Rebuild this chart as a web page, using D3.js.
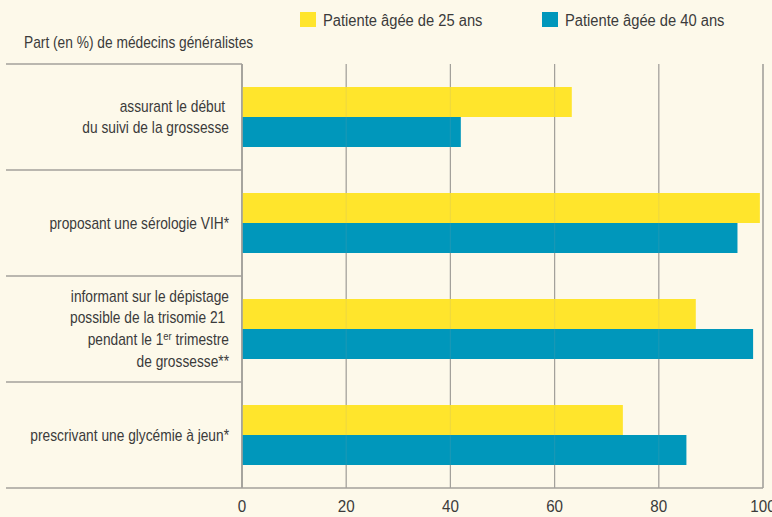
<!DOCTYPE html>
<html lang="fr">
<head>
<meta charset="UTF-8">
<title>Médecins généralistes</title>
<script src="https://cdn.jsdelivr.net/npm/d3@7"></script>
<style>
  body { margin: 0; background: #fdf9ea; }
  svg { display: block; }
  text { font-family: "Liberation Sans", Arial, sans-serif; fill: #3b3b3b; }
</style>
</head>
<body>
<svg id="chart" width="772" height="517"></svg>
<script>
// categories (each label is a list of lines; "^" marks the superscript part)
const categories = ["debut", "vih", "trisomie", "glycemie"];
const labelLines = [
  ["assurant le début ", "du suivi de la grossesse"],
  ["proposant une sérologie VIH*"],
  ["informant sur le dépistage", "possible de la trisomie 21 ", "pendant le 1^er^ trimestre", "de grossesse**"],
  ["prescrivant une glycémie à jeun*"]
];
const seriesNames = ["Patiente âgée de 25 ans", "Patiente âgée de 40 ans"];
const age25 = [63.3, 99.4, 87.1, 73.1];
const age40 = [42, 95.1, 98.1, 85.3];
const xTicks = [0, 20, 40, 60, 80, 100];
const colors = ["#ffe52c", "#0097bb"];

const svg = d3.select("#chart");

const x = d3.scaleLinear().domain([0, 100]).range([242, 763]);
const y = d3.scaleBand().domain(categories).range([64, 488]);
const ySub = d3.scaleBand().domain([0, 1]).range([23, 83]);

const gridColor = "#a3a19b";
const narrow = 0.86; // no condensed font installed, squeeze horizontally

// vertical gridlines
const grid = svg.append("g").selectAll("line")
  .data(xTicks)
  .enter().append("line")
  .attr("x1", d => x(d)).attr("x2", d => x(d))
  .attr("y1", 64).attr("y2", 488)
  .attr("stroke", gridColor)
  .attr("stroke-width", d => d === 0 || d === 100 ? 1.6 : 1.2);

// bars
const rows = categories.map((c, i) => ({cat: c, values: [age25[i], age40[i]]}));
const groups = svg.append("g").selectAll("g")
  .data(rows)
  .enter().append("g")
  .attr("transform", d => "translate(0," + y(d.cat) + ")");

groups.selectAll("rect")
  .data(d => d.values)
  .enter().append("rect")
  .attr("x", x(0))
  .attr("y", (d, i) => ySub(i))
  .attr("width", d => x(d) - x(0))
  .attr("height", ySub.bandwidth())
  .attr("fill", (d, i) => colors[i]);

// faint gridlines showing through the bars
svg.append("g").selectAll("line")
  .data(xTicks.slice(1, -1))
  .enter().append("line")
  .attr("x1", d => x(d)).attr("x2", d => x(d))
  .attr("y1", 64).attr("y2", 488)
  .attr("stroke", gridColor)
  .attr("stroke-width", 1.2)
  .attr("opacity", 0.15);

// axis line at 0 on top of bars
svg.append("line")
  .attr("x1", x(0)).attr("x2", x(0))
  .attr("y1", 64).attr("y2", 488)
  .attr("stroke", gridColor)
  .attr("stroke-width", 1.6);

// horizontal separators in label area
const seps = categories.map(c => y(c)).concat([488]);
svg.append("g").selectAll("line")
  .data(seps)
  .enter().append("line")
  .attr("x1", 6).attr("x2", (d, i) => i === seps.length - 1 ? x(100) : x(0))
  .attr("y1", d => d).attr("y2", d => d)
  .attr("stroke", gridColor)
  .attr("stroke-width", 1.6);

// category labels
const lineH = 22;
groups.each(function(d, i) {
  const lines = labelLines[i];
  const y0 = y.bandwidth() / 2 - (lines.length - 1) * lineH / 2 + 5.5;
  const t = d3.select(this).append("text")
    .attr("text-anchor", "end")
    .attr("font-size", 16)
    .attr("transform", "translate(229," + y0 + ") scale(" + narrow + ",1)");
  lines.forEach((ln, k) => {
    const parts = ln.split("^");
    parts.forEach((p, j) => {
      const ts = t.append("tspan").text(p);
      if (j === 0) ts.attr("x", 0).attr("y", k * lineH);
      if (j === 1) ts.attr("dy", -5).attr("font-size", 11);
      if (j === 2) ts.attr("dy", 5);
    });
  });
});

// x axis labels
svg.append("g").selectAll("text")
  .data(xTicks)
  .enter().append("text")
  .attr("text-anchor", "middle")
  .attr("font-size", 16)
  .attr("transform", d => "translate(" + x(d) + ",512) scale(0.95,1)")
  .text(d => d);

// title
svg.append("text")
  .attr("font-size", 16)
  .attr("transform", "translate(24,48) scale(" + narrow + ",1)")
  .text("Part (en %) de médecins généralistes");

// legend
const legendX = [300, 542];
const legend = svg.append("g").selectAll("g")
  .data(seriesNames)
  .enter().append("g")
  .attr("transform", (d, i) => "translate(" + legendX[i] + ",12)");
legend.append("rect")
  .attr("width", 16).attr("height", 15)
  .attr("fill", (d, i) => colors[i]);
legend.append("text")
  .attr("font-size", 16)
  .attr("transform", "translate(23,14) scale(0.92,1)")
  .text(d => d);
</script>
</body>
</html>
